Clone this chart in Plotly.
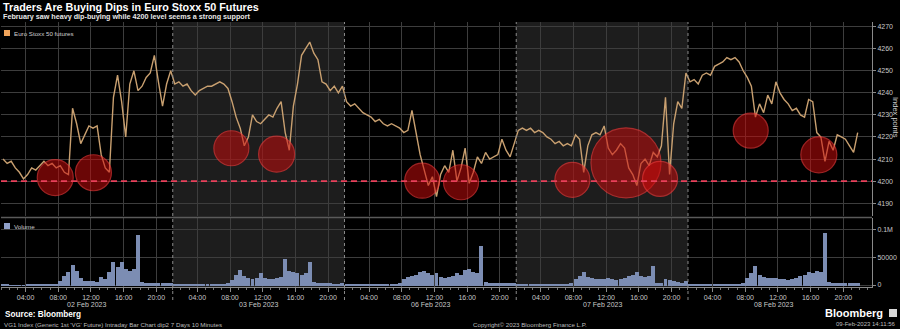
import pandas as pd
import plotly.graph_objects as go
from plotly.subplots import make_subplots

# ---------------- data ----------------
days = ["2023-02-02", "2023-02-03", "2023-02-06", "2023-02-07", "2023-02-08"]
day_labels = ["02 Feb 2023", "03 Feb 2023", "06 Feb 2023", "07 Feb 2023", "08 Feb 2023"]
# 30-minute slots across the 01:00-22:00 trading session
slots = ["01:15", "01:45", "02:15", "02:45", "03:15", "03:45", "04:15", "04:45",
         "05:15", "05:45", "06:15", "06:45", "07:15", "07:45", "08:15", "08:45",
         "09:15", "09:45", "10:15", "10:45", "11:15", "11:45", "12:15", "12:45",
         "13:15", "13:45", "14:15", "14:45", "15:15", "15:45", "16:15", "16:45",
         "17:15", "17:45", "18:15", "18:45", "19:15", "19:45", "20:15", "20:45",
         "21:15", "21:45"]

price_02 = [4210, 4208, 4209, 4206, 4204, 4201, 4203, 4206, 4205, 4207, 4209, 4207,
            4208, 4206, 4207, 4204, 4203, 4233, 4226, 4217, 4221, 4225, 4224, 4225,
            4212, 4206, 4204, 4238, 4248, 4236, 4220, 4244, 4250, 4241, 4243, 4247,
            4249, 4257, 4245, 4234, 4244, 4250]
price_03 = [4244, 4245, 4243, 4244, 4241, 4239, 4241, 4242, 4243, 4243, 4244, 4245,
            4244, 4242, 4236, 4229, 4224, 4216, 4220, 4230, 4227, 4226, 4228, 4230,
            4229, 4233, 4236, 4222, 4214, 4234, 4244, 4257, 4260, 4263, 4258, 4255,
            4245, 4244, 4241, 4243, 4240, 4243]
price_06 = [4236, 4234, 4235, 4233, 4231, 4230, 4229, 4227, 4228, 4226, 4225, 4226,
            4225, 4224, 4222, 4223, 4232, 4222, 4212, 4205, 4198, 4202, 4193, 4203,
            4207, 4204, 4214, 4200, 4206, 4215, 4199, 4204, 4211, 4208, 4213, 4210,
            4211, 4212, 4219, 4214, 4211, 4217]
price_07 = [4223, 4224, 4223, 4224, 4222, 4223, 4222, 4220, 4219, 4217, 4218, 4216,
            4217, 4216, 4221, 4219, 4204, 4216, 4221, 4222, 4221, 4225, 4215, 4212,
            4214, 4217, 4215, 4206, 4203, 4198, 4208, 4210, 4207, 4213, 4211, 4216,
            4238, 4203, 4226, 4236, 4233, 4249]
price_08 = [4245, 4246, 4244, 4248, 4249, 4248, 4252, 4253, 4254, 4256, 4255, 4256,
            4254, 4250, 4247, 4243, 4229, 4235, 4231, 4239, 4235, 4245, 4240, 4237,
            4235, 4232, 4233, 4230, 4229, 4237, 4236, 4222, 4220, 4209, 4218, 4214,
            4221, 4220, 4219, 4216, 4213, 4222]

vol_02 = [1200, 1000, 900, 800, 800, 900, 1000, 1100, 1200, 1400, 1600, 1800,
          2500, 3500, 9000, 17000, 25000, 38000, 26000, 14000, 9000, 8000, 7500, 7000,
          15000, 12000, 24000, 42000, 33000, 42000, 30000, 27000, 30000, 92000, 6000, 5000,
          4500, 4500, 4000, 4000, 4000, 4500]
vol_03 = [2500, 2000, 1800, 1600, 1500, 1600, 1800, 2000, 2000, 2200, 2500, 2800,
          3000, 4000, 10000, 20000, 28000, 18000, 14000, 12000, 13000, 22000, 13000, 11000,
          12000, 13000, 16000, 48000, 26000, 24000, 22000, 20000, 22000, 42000, 6000, 5000,
          4500, 4000, 4000, 3500, 3500, 4000]
vol_06 = [2500, 2000, 1800, 1600, 1500, 1600, 1800, 2000, 2200, 2400, 2600, 3000,
          3500, 5000, 12000, 16000, 18000, 20000, 24000, 26000, 22000, 20000, 22000, 16000,
          14000, 15000, 18000, 22000, 20000, 28000, 30000, 24000, 22000, 72000, 6000, 5000,
          4500, 4500, 4000, 4000, 4000, 4500]
vol_07 = [2500, 2000, 1800, 1600, 1500, 1600, 1800, 2000, 2200, 2400, 2600, 3000,
          3500, 5000, 12000, 18000, 24000, 16000, 13000, 12000, 11000, 12000, 14000, 11000,
          10000, 12000, 14000, 18000, 20000, 24000, 18000, 16000, 18000, 36000, 5000, 4500,
          12000, 10000, 8000, 6000, 5000, 8000]
vol_08 = [3000, 2500, 2000, 1800, 1600, 1800, 2000, 2200, 2400, 2600, 2800, 3000,
          3500, 5000, 14000, 22000, 36000, 20000, 16000, 14000, 13000, 14000, 12000, 11000,
          10000, 11000, 14000, 18000, 20000, 24000, 22000, 26000, 24000, 96000, 6000, 5000,
          4500, 4500, 4000, 4000, 4000, 5000]

# highlighted dip-buying zones
circle_time = ["2023-02-02 07:38", "2023-02-02 12:18", "2023-02-03 08:10", "2023-02-03 13:42",
               "2023-02-06 10:30", "2023-02-06 15:15", "2023-02-07 07:52", "2023-02-07 14:25",
               "2023-02-07 18:35", "2023-02-08 08:40", "2023-02-08 17:00"]
circle_price = [4201.6, 4203.8, 4214.9, 4212.2, 4200.2, 4199.5, 4200.6, 4208.3,
                4201.0, 4222.9, 4211.9]
circle_size = [36, 36, 35, 36, 35, 35, 35, 70, 35, 35, 36]

support_level = 4200
price_ticks = [4190, 4200, 4210, 4220, 4230, 4240, 4250, 4260, 4270]
vol_ticks = [0, 50000, 100000]
vol_tick_text = ["0", "50000", "0.1M"]
tick_hours = ["04:00", "08:00", "12:00", "16:00", "20:00"]

# ---------------- build ----------------
prices = price_02 + price_03 + price_06 + price_07 + price_08
volumes = vol_02 + vol_03 + vol_06 + vol_07 + vol_08
times = [pd.Timestamp(f"{d} {s}") for d in days for s in slots]

tickvals = [f"{d} {h}" for d in days for h in tick_hours]
ticktext = [h for d in days for h in tick_hours]

W, H = 900, 329
ML, MR, MT, MB = 1, 28, 22, 42
PW, PH = W - ML - MR, H - MT - MB


def px_x(px):
    return (px - ML) / PW


def px_y(py):
    return (H - MB - py) / PH


fig = make_subplots(rows=2, cols=1, shared_xaxes=True)

fig.add_trace(go.Scatter(x=times, y=prices, mode="lines",
                         line=dict(color="#c9a070", width=1.4),
                         name="Euro Stoxx 50 futures", showlegend=False), row=1, col=1)
fig.add_trace(go.Scatter(x=circle_time, y=circle_price, mode="markers",
                         marker=dict(size=circle_size, color="rgba(205,12,12,0.74)",
                                     line=dict(color="rgba(240,55,55,0.9)", width=1.2)),
                         showlegend=False, hoverinfo="skip"), row=1, col=1)
fig.add_trace(go.Bar(x=times, y=volumes, width=1750000,
                     marker=dict(color="#7c8db3", line=dict(width=0)),
                     name="Volume", showlegend=False), row=2, col=1)

grid = "#3d3d3d"
axis_font = dict(family="Liberation Sans, Arial", size=7, color="#c8c8c8")
rb = [dict(bounds=["sat", "mon"]), dict(bounds=[22, 1], pattern="hour")]
xr = ["2023-02-02 01:00", "2023-02-09 02:30"]

main_bottom = px_y(216)
vol_top = px_y(217.5)

fig.update_xaxes(rangebreaks=rb, range=xr, tickmode="array", tickvals=tickvals,
                 ticktext=ticktext, showgrid=True, gridcolor=grid, gridwidth=1,
                 zeroline=False, tickfont=axis_font)
fig.update_xaxes(showticklabels=False, ticks="", showline=False, row=1, col=1)
fig.update_xaxes(ticks="outside", ticklen=4, tickcolor="#8a8a8a", showline=True,
                 linecolor="#8a8a8a", linewidth=1,
                 minor=dict(tickmode="linear", tick0="2023-02-02 00:00", dtick=3600000,
                            ticks="outside", ticklen=2, tickcolor="#777", showgrid=False),
                 row=2, col=1)

fig.update_yaxes(side="right", range=[4184.2, 4272.1], tickvals=price_ticks,
                 showgrid=True, gridcolor=grid, zeroline=False, ticks="outside",
                 ticklen=3, tickcolor="#8a8a8a", showline=True, linecolor="#8a8a8a",
                 tickfont=axis_font, domain=[main_bottom, 1], row=1, col=1)
fig.update_yaxes(side="right", range=[-3600, 122700], tickvals=vol_ticks,
                 ticktext=vol_tick_text, showgrid=True, gridcolor=grid, zeroline=False,
                 ticks="outside", ticklen=3, tickcolor="#8a8a8a", showline=True,
                 linecolor="#8a8a8a", tickfont=axis_font, domain=[0, vol_top], row=2, col=1)

shapes = []
# alternating day shading
for i, d in enumerate(days):
    if i % 2 == 1:
        for yr in ["y domain", "y2 domain"]:
            shapes.append(dict(type="rect", xref="x", yref=yr, x0=f"{d} 01:00",
                               x1=f"{d} 22:00", y0=0, y1=1, fillcolor="#1d1d1d",
                               line=dict(width=0), layer="below"))
        shapes.append(dict(type="rect", xref="x", yref="paper", x0=f"{d} 01:00",
                           x1=f"{d} 22:00", y0=vol_top, y1=main_bottom,
                           fillcolor="#1d1d1d", line=dict(width=0), layer="below"))
# day separators
for d in days[:-1]:
    shapes.append(dict(type="line", xref="x", yref="paper", x0=f"{d} 22:00",
                       x1=f"{d} 22:00", y0=px_y(300), y1=1,
                       line=dict(color="#8a8a8a", width=1, dash="dot")))
# panel separator
shapes.append(dict(type="line", xref="paper", yref="paper", x0=0, x1=1,
                   y0=vol_top, y1=vol_top, line=dict(color="#5a5a5a", width=1.5)))
# support level
shapes.append(dict(type="line", xref="paper", yref="y", x0=0, x1=1,
                   y0=support_level, y1=support_level,
                   line=dict(color="#e8405a", width=1.8, dash="6px,4px")))
# legend swatches
shapes.append(dict(type="rect", xref="paper", yref="paper", x0=px_x(4), x1=px_x(10),
                   y0=px_y(36), y1=px_y(30), fillcolor="#f0a35a", line=dict(width=0)))
shapes.append(dict(type="rect", xref="paper", yref="paper", x0=px_x(4), x1=px_x(10),
                   y0=px_y(229), y1=px_y(223), fillcolor="#8fa0c8", line=dict(width=0)))
# logo icon
shapes.append(dict(type="rect", xref="paper", yref="paper", x0=px_x(889), x1=px_x(897),
                   y0=px_y(317), y1=px_y(309), fillcolor="#d8d8d8", line=dict(width=0)))

ann = []
F = "Liberation Sans, Arial"
ann.append(dict(text="<b>Traders Are Buying Dips in Euro Stoxx 50 Futures</b>",
                x=px_x(1), y=px_y(7.5), xanchor="left", yanchor="middle",
                font=dict(family=F, size=10.8, color="#ffffff")))
ann.append(dict(text="<b>February saw heavy dip-buying while 4200 level seems a strong support</b>",
                x=px_x(1), y=px_y(16.5), xanchor="left", yanchor="middle",
                font=dict(family=F, size=7.2, color="#e8e8e8")))
ann.append(dict(text="Euro Stoxx 50 futures", x=px_x(12), y=px_y(33), xanchor="left",
                yanchor="middle", font=dict(family=F, size=6.2, color="#d0d0d0")))
ann.append(dict(text="Volume", x=px_x(12), y=px_y(226.5), xanchor="left",
                yanchor="middle", font=dict(family=F, size=6.2, color="#d0d0d0")))
ann.append(dict(text="Index points", x=px_x(896), y=px_y(118), textangle=90,
                xanchor="center", yanchor="middle",
                font=dict(family=F, size=7.5, color="#d0d0d0")))
for d, lab in zip(days, day_labels):
    ann.append(dict(text=lab, x=f"{d} 11:30", xref="x2", y=px_y(304), yref="paper",
                    xanchor="center", yanchor="middle",
                    font=dict(family=F, size=7, color="#c8c8c8")))
ann.append(dict(text="<b>Source: Bloomberg</b>", x=px_x(3), y=px_y(314),
                xanchor="left", yanchor="middle",
                font=dict(family=F, size=8.2, color="#ffffff")))
ann.append(dict(text="VG1 Index (Generic 1st 'VG' Future) Intraday Bar Chart dip2 7 Days 10 Minutes",
                x=px_x(2), y=px_y(324), xanchor="left", yanchor="middle",
                font=dict(family=F, size=6.2, color="#bdbdbd")))
ann.append(dict(text="Copyright© 2023 Bloomberg Finance L.P.", x=px_x(530), y=px_y(324),
                xanchor="center", yanchor="middle",
                font=dict(family=F, size=6.2, color="#bdbdbd")))
ann.append(dict(text="<b>Bloomberg</b>", x=px_x(885), y=px_y(313), xanchor="right",
                yanchor="middle", font=dict(family=F, size=11, color="#ffffff")))
ann.append(dict(text="09-Feb-2023 14:11:56", x=px_x(898), y=px_y(324), xanchor="right",
                yanchor="middle", font=dict(family=F, size=6, color="#bdbdbd")))
for a in ann:
    a.setdefault("xref", "paper")
    a.setdefault("yref", "paper")
    a["showarrow"] = False

fig.update_layout(width=W, height=H, margin=dict(l=ML, r=MR, t=MT, b=MB),
                  paper_bgcolor="#000000", plot_bgcolor="#000000",
                  shapes=shapes, annotations=ann, showlegend=False, bargap=0,
                  font=dict(family=F, color="#c8c8c8"))

fig.write_html("out.html")
